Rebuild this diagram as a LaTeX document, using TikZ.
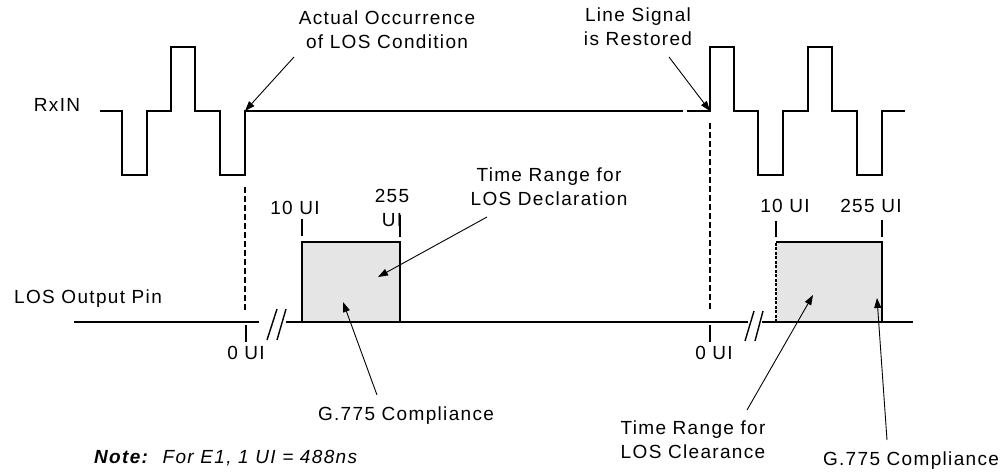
\documentclass[tikz,border=0pt]{standalone}
\usepackage{fontspec}
\setmainfont{Liberation Sans}[LetterSpace=7]
\usepackage{tikz}
\usetikzlibrary{arrows.meta, positioning, calc}
\definecolor{cRange}{RGB}{229,229,229}
\tikzset{
	lbl/.style     ={inner sep=1pt, align=center, font=\fontsize{19pt}{24pt}\selectfont},
	wave/.style    ={line width=2.8pt, line join=miter},
	pinline/.style ={line width=2.8pt},
	marker/.style  ={dash pattern=on 6pt off 3pt, line width=1.8pt},
	tick/.style    ={line width=1.2pt},
	brk/.style     ={line width=1.4pt},
	rangebox/.style={fill=cRange},
	edge/.style    ={line width=1.2pt},
	ptr/.style     ={-{Triangle[length=10pt, width=7pt]}, line width=0.9pt},
}
\begin{document}
\begin{tikzpicture}[x=1pt, y=-1pt]
	\useasboundingbox (0,0) rectangle (1008,474);
	% points on the traces
	\coordinate (losstart) at (245,111);
	\coordinate (restart) at (710,111);
	\coordinate (zeroA) at (246,342);
	\coordinate (zeroB) at (710,342);
	% shaded ranges
	\fill[rangebox] (302,242) rectangle (400,322);
	\draw[edge] (302,322) |- (400,242) -- (400,322);
	\fill[rangebox] (776,242) rectangle (882,322);
	\draw[edge, dash pattern=on 3pt off 1.5pt] (776,322) -- (776,242);
	\draw[edge] (776,242) -- (882,242) -- (882,322);
	\draw[tick] (302,219) -- (302,236);
	\draw[tick] (400,215) -- (400,237);
	\draw[tick] (776,221) -- (776,237);
	\draw[tick] (882,220) -- (882,237);
	% RxIN trace
	\draw[wave] (100,111) -- (122,111) -- (122,175) -- (147,175) -- (147,111) -- (171,111) -- (171,47) -- (195,47) -- (195,111) -- (220,111) -- (220,175) -- (245,175) -- (losstart) -- (683,111);
	\draw[wave] (687,111) -- (restart) -- (710,47) -- (734,47) -- (734,111) -- (758,111) -- (758,175) -- (783,175) -- (783,111) -- (808,111) -- (808,47) -- (832,47) -- (832,111) -- (857,111) -- (857,175) -- (882,175) -- (882,111) -- (905,111);
	% LOS output pin trace
	\draw[pinline] (74,322) -- (259,322);
	\draw[pinline] (286,322) -- (748,322);
	\draw[pinline] (762,322) -- (913,322);
	\draw[brk] (267,340) -- (277,309);
	\draw[brk] (277,340) -- (286,309);
	\draw[brk] (745,341) -- (754,311);
	\draw[brk] (755,341) -- (763,311);
	\draw[marker] (245,187) -- (245,312);
	\draw[marker] (710,123) -- (710,310);
	\draw[tick] (246,325) -- (zeroA);
	\draw[tick] (710,325) -- (zeroB);
	% labels
	\node[lbl] (rxin) at (57,105) {RxIN};
	\node[lbl] (pin) at (88,299) {LOS Output Pin};
	\node[lbl] (occur) at (387,30) {Actual Occurrence\\ of LOS Condition};
	\node[lbl] (restored) at (638,27) {Line Signal\\ is Restored};
	\node[lbl] (declrange) at (549,187) {Time Range for\\ LOS Declaration};
	\node[lbl] (tenA) at (295,208) {10 UI};
	\node[lbl] (maxA) at (392,208) {255\\ UI};
	\node[lbl] (tenB) at (785,206) {10 UI};
	\node[lbl] (maxB) at (871,206) {255 UI};
	\node[lbl, below=3pt of zeroA] (zerolblA) {0 UI};
	\node[lbl, below=3pt of zeroB, xshift=4pt] (zerolblB) {0 UI};
	\node[lbl] (complA) at (406,416) {G.775 Compliance};
	\node[lbl] (clrrange) at (693,440) {Time Range for\\ LOS Clearance};
	\node[lbl] (complB) at (911,461) {G.775 Compliance};
	\node[lbl, anchor=west] (note) at (93,458) {\textbf{\textit{Note:}}\ \ \textit{For E1, 1 UI = 488ns}};
	% pointers
	\coordinate (occurtail) at (294,57);
	\coordinate (restoretail) at (669,57);
	\coordinate (decltail) at (487,217);
	\coordinate (decltip) at (378,277);
	\coordinate (compltailA) at (377,395);
	\coordinate (compltipA) at (343,302);
	\coordinate (clrtail) at (747,410);
	\coordinate (clrtip) at (813,295);
	\coordinate (compltailB) at (887,440);
	\coordinate (compltipB) at (877,298);
	\draw[ptr] (occurtail) -- (losstart);
	\draw[ptr] (restoretail) -- (restart);
	\draw[ptr] (decltail) -- (decltip);
	\draw[ptr] (compltailA) -- (compltipA);
	\draw[ptr] (clrtail) -- (clrtip);
	\draw[ptr] (compltailB) -- (compltipB);
\end{tikzpicture}
\end{document}
